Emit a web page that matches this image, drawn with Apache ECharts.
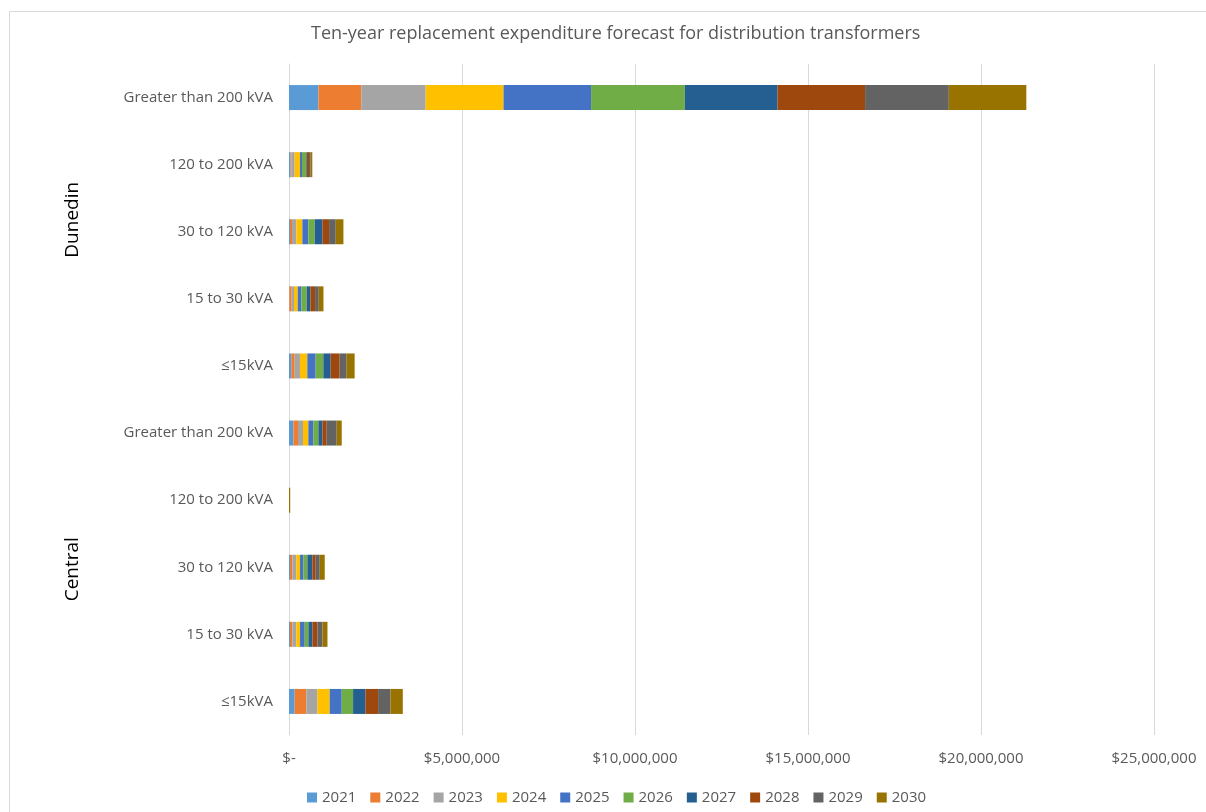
<!DOCTYPE html>
<html>
<head>
<meta charset="utf-8">
<script src="https://cdn.jsdelivr.net/npm/echarts@6/dist/echarts.min.js"></script>
<style>html,body{margin:0;padding:0;background:#fff}#c{width:1206px;height:812px}</style>
</head>
<body>
<div id="c"></div>
<script>
const titleText = 'Ten-year replacement expenditure forecast for distribution transformers';
const groups = ['Dunedin', 'Central'];
const sizeBands = ['Greater than 200 kVA', '120 to 200 kVA', '30 to 120 kVA', '15 to 30 kVA', '≤15kVA'];
const years = ['2021','2022','2023','2024','2025','2026','2027','2028','2029','2030'];
// rows in order: Dunedin (5 bands), Central (5 bands); each row lists 2021..2030 values ($)
const dunedinGt200  = [850000, 1240000, 1860000, 2250000, 2530000, 2710000, 2680000, 2530000, 2420000, 2240000];
const dunedin120    = [48000, 29000, 87000, 153000, 58000, 125000, 20000, 58000, 48000, 48000];
const dunedin30     = [29000, 58000, 125000, 174000, 174000, 183000, 222000, 193000, 193000, 222000];
const dunedin15     = [10000, 67000, 67000, 107000, 107000, 154000, 107000, 135000, 107000, 135000];
const dunedinLe15   = [67000, 96000, 154000, 212000, 241000, 222000, 212000, 260000, 202000, 231000];
const centralGt200  = [125000, 135000, 145000, 154000, 145000, 145000, 116000, 125000, 289000, 145000];
const central120    = [0, 0, 0, 0, 0, 0, 0, 0, 0, 35000];
const central30     = [29000, 67000, 116000, 107000, 96000, 116000, 145000, 96000, 116000, 145000];
const central15     = [29000, 67000, 116000, 107000, 135000, 107000, 116000, 145000, 145000, 145000];
const centralLe15   = [164000, 338000, 318000, 357000, 347000, 328000, 357000, 366000, 357000, 357000];
const rows = [dunedinGt200, dunedin120, dunedin30, dunedin15, dunedinLe15,
              centralGt200, central120, central30, central15, centralLe15];
const xTicks = [0, 5000000, 10000000, 15000000, 20000000, 25000000];
const colors = ['#5B9BD5','#ED7D31','#A5A5A5','#FFC000','#4472C4','#70AD47','#255E91','#9E480E','#636363','#997300'];

const categories = [];
groups.forEach((g, gi) => sizeBands.forEach(b => categories.push(g + '|' + b)));

const font = '"Open Sans", "Noto Sans", sans-serif';
const chart = echarts.init(document.getElementById('c'), null, {renderer: 'canvas'});

const series = years.map((y, yi) => ({
  name: y,
  type: 'bar',
  stack: 'total',
  barWidth: 25,
  itemStyle: {color: colors[yi]},
  emphasis: {disabled: true},
  data: rows.map(r => r[yi])
}));

chart.setOption({
  animation: false,
  color: colors,
  title: {
    text: titleText, left: 306, top: 20,
    textStyle: {fontFamily: font, fontSize: 18, fontWeight: 'normal', color: '#595959'}
  },
  legend: {
    data: years, bottom: 2, left: 302,
    itemWidth: 10, itemHeight: 10, itemGap: 14, icon: 'rect',
    textStyle: {fontFamily: font, fontSize: 15, color: '#595959'}
  },
  grid: {left: 289, right: 52, top: 64, bottom: 77, containLabel: false},
  xAxis: {
    type: 'value', min: xTicks[0], max: xTicks[xTicks.length - 1], interval: xTicks[1] - xTicks[0],
    axisLine: {show: false}, axisTick: {show: false},
    splitLine: {lineStyle: {color: '#d9d9d9'}},
    axisLabel: {
      fontFamily: font, fontSize: 15, color: '#595959', margin: 16,
      formatter: v => v === 0 ? '$-' : '$' + v.toLocaleString('en-US')
    }
  },
  yAxis: {
    type: 'category', data: categories, inverse: true,
    axisLine: {lineStyle: {color: '#d9d9d9'}}, axisTick: {show: false},
    axisLabel: {
      fontFamily: font, fontSize: 15, color: '#595959', margin: 16,
      formatter: v => v.split('|')[1]
    }
  },
  series: series
});

// group labels positioned from the category axis
const groupShift = [-12, 2];
const gfx = [{
  type: 'rect', shape: {x: 9.5, y: 11.5, width: 1210, height: 820},
  style: {fill: 'none', stroke: '#d9d9d9', lineWidth: 1}, silent: true
}];
groups.forEach((g, gi) => {
  const a = chart.convertToPixel({yAxisIndex: 0}, categories[gi * 5]);
  const b = chart.convertToPixel({yAxisIndex: 0}, categories[gi * 5 + 4]);
  gfx.push({
    type: 'text', x: 73, y: (a + b) / 2 + groupShift[gi], rotation: Math.PI / 2,
    style: {text: g, fontFamily: font, fontSize: 19, fill: '#000', align: 'center', verticalAlign: 'middle'}
  });
});
chart.setOption({graphic: gfx});
</script>
</body>
</html>
